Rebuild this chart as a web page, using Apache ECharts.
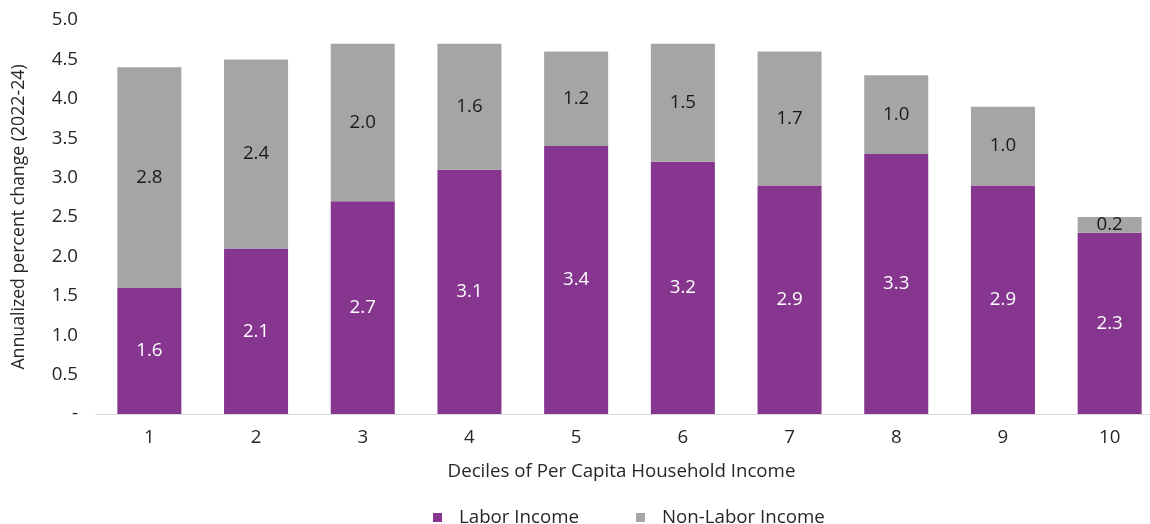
<!DOCTYPE html>
<html>
<head>
<meta charset="utf-8">
<script src="https://cdn.jsdelivr.net/npm/echarts@6/dist/echarts.min.js"></script>
<style>
  html, body { margin: 0; padding: 0; background: #fff; overflow: hidden; }
  body { width: 1150px; height: 524px; }
  /* the plot area runs slightly past the right edge of the page */
  #chart { width: 1163px; height: 524px; }
</style>
</head>
<body>
<div id="chart"></div>
<script>
// Income deciles and the two components of annualized income growth
const deciles = ['1', '2', '3', '4', '5', '6', '7', '8', '9', '10'];
const laborIncome = [1.6, 2.1, 2.7, 3.1, 3.4, 3.2, 2.9, 3.3, 2.9, 2.3];
const nonLaborIncome = [2.8, 2.4, 2.0, 1.6, 1.2, 1.5, 1.7, 1.0, 1.0, 0.2];
const yTicks = { min: 0, max: 5, interval: 0.5 };

const FONT = '"Open Sans", "Noto Sans", sans-serif';
const FS = 18.7;
const INK = '#262626';
const chart = echarts.init(document.getElementById('chart'), null, { renderer: 'canvas' });

chart.setOption({
  animation: false,
  textStyle: { fontFamily: FONT },
  grid: { left: 96, top: 20, right: 0, height: 394, containLabel: false },
  legend: {
    top: 503,
    left: 428,
    itemWidth: 9,
    itemHeight: 9,
    itemGap: 57,
    icon: 'rect',
    textStyle: { fontFamily: FONT, fontSize: FS, color: INK, padding: [0, 0, 0, 12] },
    data: ['Labor Income', 'Non-Labor Income']
  },
  xAxis: {
    type: 'category',
    data: deciles,
    name: 'Deciles of Per Capita Household Income',
    nameLocation: 'middle',
    nameGap: 48,
    nameTextStyle: { fontFamily: FONT, fontSize: FS, color: INK, padding: [0, 16, 0, 0] },
    axisLine: { lineStyle: { color: '#D9D9D9', width: 1 } },
    axisTick: { show: false },
    axisLabel: { fontFamily: FONT, fontSize: FS, color: INK, margin: 14 }
  },
  yAxis: {
    type: 'value',
    min: yTicks.min,
    max: yTicks.max,
    interval: yTicks.interval,
    name: 'Annualized percent change (2022-24)',
    nameLocation: 'middle',
    nameGap: 68,
    nameTextStyle: { fontFamily: FONT, fontSize: 17.7, color: INK },
    splitLine: { show: false },
    axisLine: { show: false },
    axisTick: { show: false },
    axisLabel: {
      fontFamily: FONT, fontSize: FS, color: INK, margin: 18,
      formatter: v => (v === 0 ? '-' : v.toFixed(1))
    }
  },
  series: [
    {
      name: 'Labor Income',
      type: 'bar',
      stack: 'income',
      barWidth: '60%',
      data: laborIncome,
      itemStyle: { color: '#86368F' },
      label: {
        show: true, position: 'inside', color: '#FFFFFF',
        fontFamily: FONT, fontSize: FS,
        formatter: p => p.value.toFixed(1)
      }
    },
    {
      name: 'Non-Labor Income',
      type: 'bar',
      stack: 'income',
      barWidth: '60%',
      data: nonLaborIncome,
      itemStyle: { color: '#A5A5A5' },
      label: {
        show: true, position: 'inside', color: '#1A1A1A',
        fontFamily: FONT, fontSize: FS,
        formatter: p => p.value.toFixed(1)
      }
    }
  ]
});
</script>
</body>
</html>
